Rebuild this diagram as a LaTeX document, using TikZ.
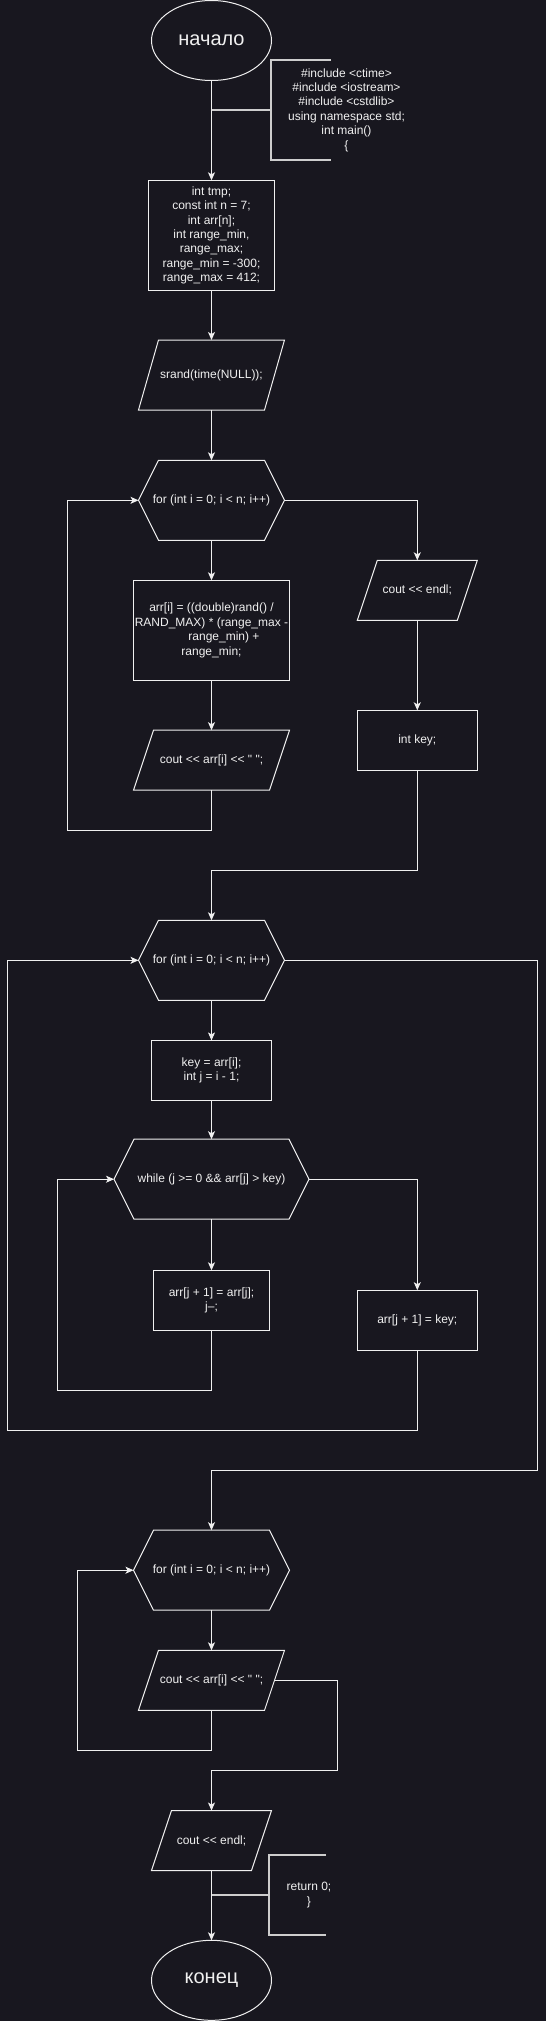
\documentclass[tikz,border=0pt]{standalone}
\usepackage{fontspec}
\newfontfamily\codefont{Liberation Sans}
\usetikzlibrary{shapes.geometric,arrows.meta,calc}
\definecolor{bg}{RGB}{24,23,31}
\definecolor{fg}{RGB}{240,240,240}
\definecolor{tx}{RGB}{240,240,240}
\definecolor{annc}{RGB}{205,205,205}
\newcommand\drawhex[1]{\draw[fg,line width=1pt,line join=miter] ([xshift=20pt]#1.north west) -- ([xshift=-20pt]#1.north east) -- (#1.east) -- ([xshift=-20pt]#1.south east) -- ([xshift=20pt]#1.south west) -- (#1.west) -- cycle;}
\newcommand\drawpara[1]{\draw[fg,line width=1pt,line join=miter] ([xshift=20pt]#1.north west) -- (#1.north east) -- ([xshift=-20pt]#1.south east) -- (#1.south west) -- cycle;}
\begin{document}
\begin{tikzpicture}[x=1pt,y=-1pt,
  base/.style={inner sep=0pt,outer sep=0pt,text=tx,align=center,font=\codefont\fontsize{12}{14.4}\selectfont},
  procbox/.style n args={2}{base,rectangle,draw=fg,line width=1pt,minimum width=#1,minimum height=#2},
  shp/.style n args={2}{base,rectangle,minimum width=#1,minimum height=#2},
  term/.style={base,ellipse,draw=fg,line width=1pt,minimum width=120pt,minimum height=80pt,font=\codefont\fontsize{20}{24}\selectfont},
  arr/.style={draw=fg,line width=1pt,line join=miter,-{Stealth[length=8pt,width=7pt,inset=2pt]}},
  annl/.style={draw=annc,line width=2pt,line join=miter}
]
\fill[bg] (0,0) rectangle (546,2021);
\useasboundingbox (0,0) rectangle (546,2021);

% nodes
\node[term] (start) at (211.5,40.5) {начало};
\node[procbox={126pt}{110pt}] (init) at (211.5,235.3) {int tmp;\\const int n = 7;\\int arr[n];\\int range\_min,\\range\_max;\\range\_min = -300;\\range\_max = 412;};
\node[shp={146pt}{70pt}] (srand) at (211.5,375) {srand(time(NULL));};
\node[shp={146pt}{80pt}] (for1) at (211.5,500.3) {for (int i = 0; i {<} n; i++)};
\node[procbox={156pt}{100pt}] (arrfill) at (211.5,630.3) {arr[i] = ((double)rand() /\\RAND\_MAX) * (range\_max -\\\hspace*{25pt}range\_min) +\\range\_min;};
\node[shp={156pt}{60pt}] (cout1) at (211.5,760.2) {cout {<}{<} arr[i] {<}{<} " ";};
\node[shp={120pt}{60pt}] (endl1) at (417.3,590.3) {cout {<}{<} endl;};
\node[procbox={120pt}{60pt}] (intkey) at (417.3,740.3) {int key;};
\node[shp={146pt}{80pt}] (for2) at (211.5,960.3) {for (int i = 0; i {<} n; i++)};
\node[procbox={120pt}{60pt}] (keybox) at (211.5,1070.4) {key = arr[i];\\int j = i - 1;};
\node[shp={195pt}{80pt}] (whl) at (211.5,1179.2) {while (j {>}= 0 \&\& arr[j] {>} key)};
\node[procbox={116pt}{60pt}] (shift) at (211.5,1300.3) {arr[j + 1] = arr[j];\\j–;};
\node[procbox={120pt}{60pt}] (keyset) at (417.3,1320.2) {arr[j + 1] = key;};
\node[shp={156pt}{80pt}] (for3) at (211.5,1570.2) {for (int i = 0; i {<} n; i++)};
\node[shp={146pt}{60pt}] (cout2) at (211.5,1680.3) {cout {<}{<} arr[i] {<}{<} " ";};
\node[shp={120pt}{60pt}] (endl2) at (211.5,1840.5) {cout {<}{<} endl;};
\node[term] (fin) at (211.5,1980.3) {конец};

% outlines of non-rectangular shapes
\drawpara{srand}
\drawhex{for1}
\drawpara{cout1}
\drawpara{endl1}
\drawhex{for2}
\drawhex{whl}
\drawhex{for3}
\drawpara{cout2}
\drawpara{endl2}

% annotations
\coordinate (j1) at (211.5,110);
\coordinate (a1) at (271,110);
\draw[annl] (331,60) -- (271,60) -- (271,160) -- (331,160);
\node[base] (ann1) at (346.5,110) {\#include {<}ctime{>}\\\#include {<}iostream{>}\\\#include {<}cstdlib{>}\\using namespace std;\\int main()\\\{};
\coordinate (j2) at (211.5,1895);
\coordinate (a2) at (269,1895);
\draw[annl] (326,1855) -- (269,1855) -- (269,1935) -- (326,1935);
\node[base] (ann2) at (309,1895) {return 0;\\\}};

% connectors
\draw[arr] (start) -- (init);
\draw[annl] (j1) -- (a1);
\draw[arr] (init) -- (srand);
\draw[arr] (srand.south) -- (for1.north);
\draw[arr] (for1.south) -- (arrfill.north);
\draw[arr] (arrfill.south) -- (cout1.north);
\draw[arr] (cout1.south) -- ++(0,40) -| ([xshift=-71.3pt]for1.west) -- (for1.west);
\draw[arr] (for1.east) -| (endl1.north);
\draw[arr] (endl1.south) -- (intkey.north);
\draw[arr] (intkey.south) -- ++(0,100) -| (for2.north);
\draw[arr] (for2.south) -- (keybox.north);
\draw[arr] (keybox.south) -- (whl.north);
\draw[arr] (whl.south) -- (shift.north);
\draw[arr] (shift.south) -- ++(0,60) -| ([xshift=-56.5pt]whl.west) -- (whl.west);
\draw[arr] (whl.east) -| (keyset.north);
\draw[arr] (keyset.south) -- ++(0,80) -| ([xshift=-131.2pt]for2.west) -- (for2.west);
\draw[arr] (for2.east) -| (537.3,1470.4) -| (for3.north);
\draw[arr] (for3.south) -- (cout2.north);
\draw[arr] (cout2.south) -- ++(0,40) -| ([xshift=-56.2pt]for3.west) -- (for3.west);
\draw[arr] ([xshift=-10pt]cout2.east) -| (337.4,1770.5) -| (endl2.north);
\draw[arr] (endl2.south) -- (fin.north);
\draw[annl] (j2) -- (a2);
\end{tikzpicture}
\end{document}
